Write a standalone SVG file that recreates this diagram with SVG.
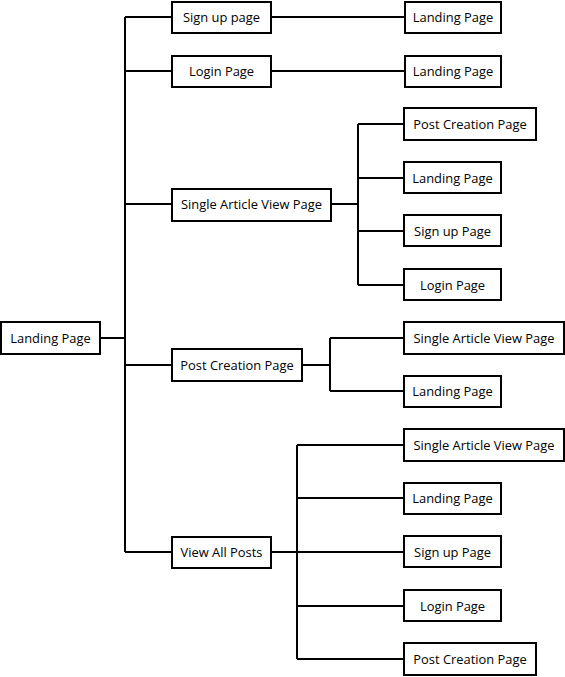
<svg xmlns="http://www.w3.org/2000/svg" width="565" height="677" viewBox="0 0 565 677">
<style>
.box{fill:#fff;stroke:#000;stroke-width:2}
.lbl{font-family:"Open Sans","Liberation Sans",sans-serif;font-size:12.9px;fill:#000;text-anchor:middle;dominant-baseline:central}
.ln{fill:none;stroke:#000;stroke-width:2}
</style>
<rect width="565" height="677" fill="#fff"/>
<g id="connectors">
<path class="ln" d="M100 338H125M125 17V552M125 17H172M125 71H172M125 204H172M125 365H172M125 552H172"/>
<path class="ln" d="M271 17H405M271 71H405"/>
<path class="ln" d="M331 204H358M358 124V285M358 124H404M358 178H404M358 231H404M358 285H404"/>
<path class="ln" d="M302 365H330M330 338V391M330 338H404M330 391H404"/>
<path class="ln" d="M271 552H404M297 445V659M297 445H404M297 498H404M297 606H404M297 659H404"/>
</g>
<g id="n-root"><rect class="box" x="1" y="322" width="99" height="32"/><text class="lbl" x="50.5" y="337.5">Landing Page</text></g>
<g id="n-signup"><rect class="box" x="172" y="2" width="99" height="31"/><text class="lbl" x="221.5" y="16.5">Sign up page</text></g>
<g id="n-login"><rect class="box" x="172" y="56" width="99" height="31"/><text class="lbl" x="221.5" y="70.5">Login Page</text></g>
<g id="n-single"><rect class="box" x="172" y="189" width="159" height="32"/><text class="lbl" x="251.5" y="203.5">Single Article View Page</text></g>
<g id="n-post"><rect class="box" x="172" y="349" width="130" height="32"/><text class="lbl" x="237" y="364.5">Post Creation Page</text></g>
<g id="n-viewall"><rect class="box" x="172" y="537" width="99" height="31"/><text class="lbl" x="221.5" y="551.5">View All Posts</text></g>
<g id="n-signup-landing"><rect class="box" x="405" y="2" width="96" height="31"/><text class="lbl" x="453" y="16.5">Landing Page</text></g>
<g id="n-login-landing"><rect class="box" x="405" y="56" width="96" height="31"/><text class="lbl" x="453" y="70.5">Landing Page</text></g>
<g id="n-single-post"><rect class="box" x="404" y="108" width="132" height="32"/><text class="lbl" x="470" y="123.5">Post Creation Page</text></g>
<g id="n-single-landing"><rect class="box" x="404" y="162" width="97" height="31"/><text class="lbl" x="452.5" y="177.5">Landing Page</text></g>
<g id="n-single-signup"><rect class="box" x="404" y="215" width="97" height="31"/><text class="lbl" x="452.5" y="230.5">Sign up Page</text></g>
<g id="n-single-login"><rect class="box" x="404" y="269" width="97" height="31"/><text class="lbl" x="452.5" y="284.5">Login Page</text></g>
<g id="n-post-single"><rect class="box" x="404" y="322" width="160" height="32"/><text class="lbl" x="484" y="337.5">Single Article View Page</text></g>
<g id="n-post-landing"><rect class="box" x="404" y="376" width="97" height="31"/><text class="lbl" x="452.5" y="390.5">Landing Page</text></g>
<g id="n-view-single"><rect class="box" x="404" y="429" width="160" height="32"/><text class="lbl" x="484" y="444.5">Single Article View Page</text></g>
<g id="n-view-landing"><rect class="box" x="404" y="483" width="97" height="31"/><text class="lbl" x="452.5" y="497.5">Landing Page</text></g>
<g id="n-view-signup"><rect class="box" x="404" y="536" width="97" height="31"/><text class="lbl" x="452.5" y="551.5">Sign up Page</text></g>
<g id="n-view-login"><rect class="box" x="404" y="590" width="97" height="31"/><text class="lbl" x="452.5" y="605.5">Login Page</text></g>
<g id="n-view-post"><rect class="box" x="404" y="643" width="132" height="32"/><text class="lbl" x="470" y="658.5">Post Creation Page</text></g>
</svg>
